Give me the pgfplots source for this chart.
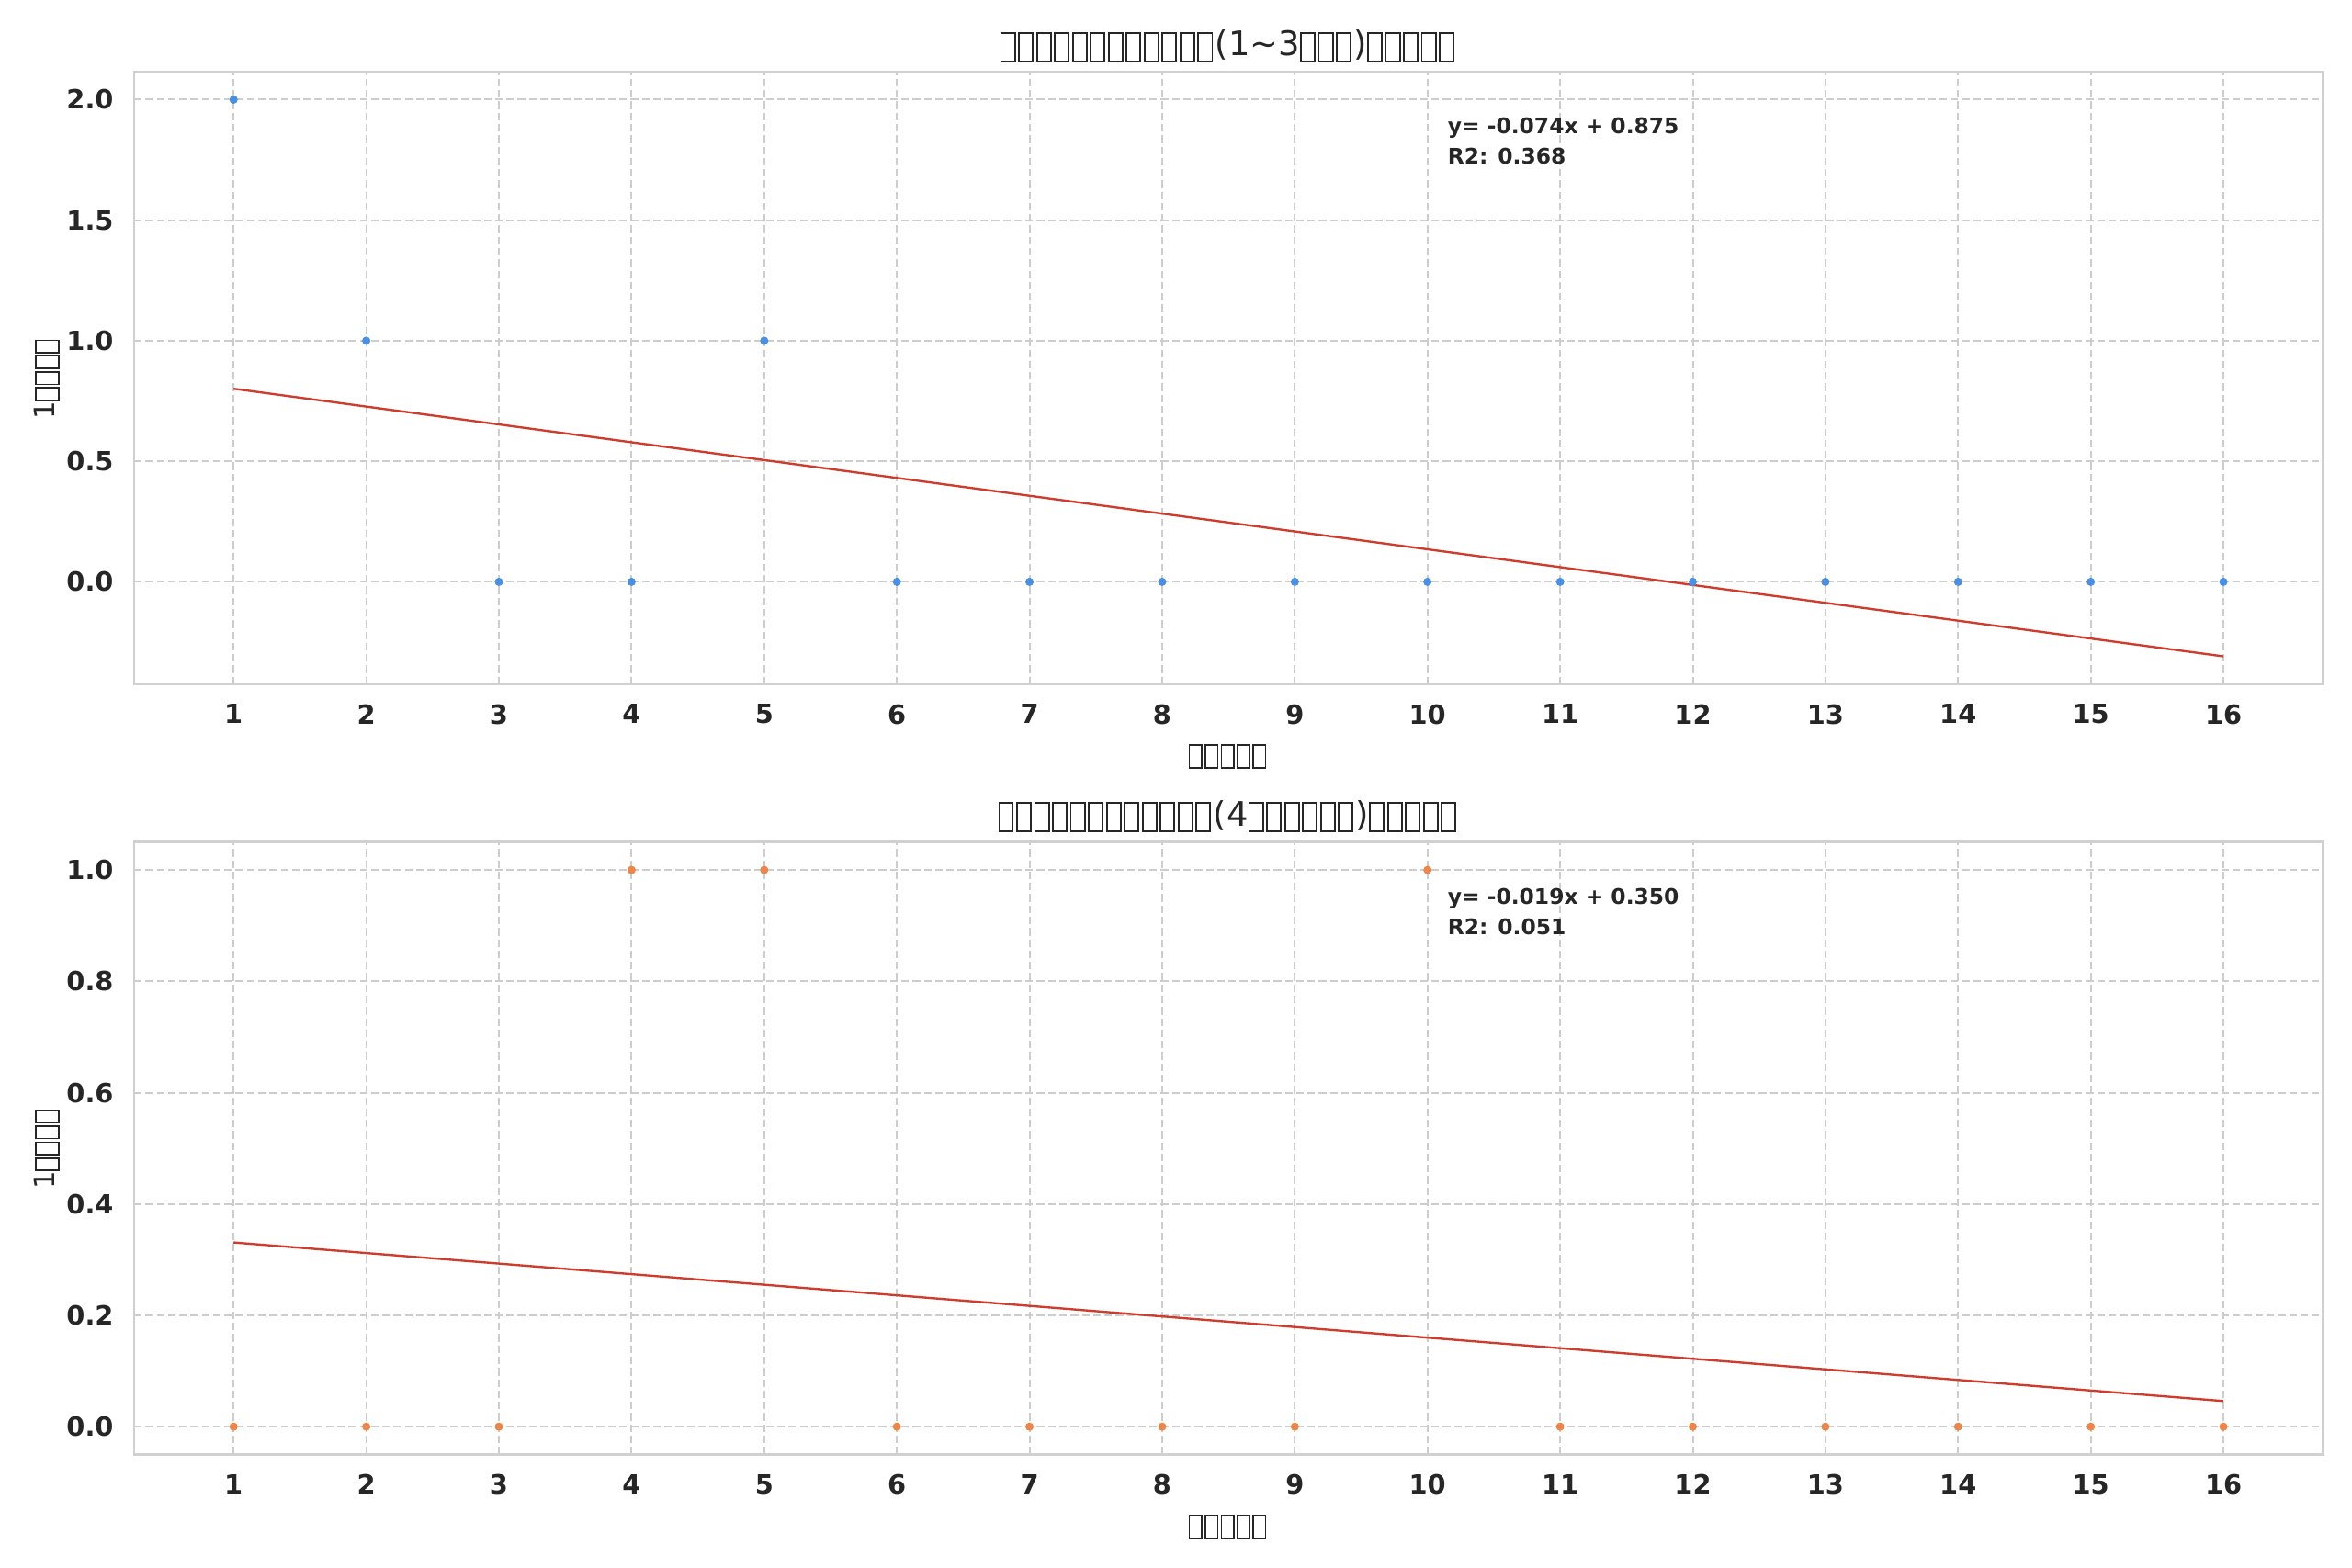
\documentclass[border=0pt]{standalone}
\usepackage{fontspec}
\setmainfont{DejaVu Sans}
\usepackage{pgfplots}
\pgfplotsset{compat=1.18}
\definecolor{txt}{RGB}{38,38,38}
\definecolor{framec}{RGB}{208,208,208}
\definecolor{gridc}{RGB}{205,205,205}
\definecolor{ptblue}{RGB}{74,144,226}
\definecolor{ptorange}{RGB}{237,134,72}
\definecolor{linered}{RGB}{205,60,45}
% missing-glyph boxes (tofu) as in the reference
\newcommand\mkbox[4]{\raisebox{-#4}{\fboxsep=0pt\fboxrule=0.05em\framebox[#1]{\rule{0pt}{\dimexpr#2-0.1em\relax}}}\kern#3}
\newcommand\ttofu{\mkbox{0.46em}{0.9em}{0.07em}{0.14em}}
\newcommand\ltofu{\mkbox{0.49em}{0.86em}{0.074em}{0.12em}}
\pgfplotstableread{
x y
1 2
2 1
3 0
4 0
5 1
6 0
7 0
8 0
9 0
10 0
11 0
12 0
13 0
14 0
15 0
16 0
}\topdata
\pgfplotstableread{
x y
1 0
2 0
3 0
4 1
5 1
6 0
7 0
8 0
9 0
10 1
11 0
12 0
13 0
14 0
15 0
16 0
}\botdata
\pgfplotsset{myax/.style={
  scale only axis, width=1008.8pt, height=282.3pt,
  xmin=0.25, xmax=16.75, xtick={1,...,16},
  axis line style={draw=framec, line width=1.1pt},
  grid=major,
  major grid style={draw=gridc, line width=0.85pt, dash pattern=on 3.5pt off 1.7pt},
  major tick length=0pt,
  tick style={draw=none},
  every axis title shift=0pt,
  /pgf/number format/assume math mode=true,
  ticklabel style={font=\fontsize{12.2}{14}\selectfont\bfseries, text=txt},
  xticklabel style={anchor=north, inner sep=0pt, yshift=-9pt},
  yticklabel style={anchor=east, inner sep=0pt, xshift=-9.3pt,
     /pgf/number format/.cd, fixed, fixed zerofill, precision=1},
  title style={at={(rel axis cs:0.5,1.0262)}, anchor=base, font=\fontsize{15.6}{18}\selectfont, text=txt, inner sep=0pt},
  xlabel style={at={(rel axis cs:0.5,-0.1297)}, anchor=base, font=\fontsize{13}{15}\selectfont, text=txt, inner sep=0pt},
  ylabel style={at={(rel axis cs:-0.03638,0.5)}, anchor=base, font=\fontsize{13}{15}\selectfont, text=txt, inner sep=0pt},
}}
\begin{document}
\begin{tikzpicture}
\useasboundingbox (0,0) rectangle (1084pt,-722.8pt);
\begin{axis}[myax, at={(61.8pt,-33.15pt)}, anchor=north west,
  ymin=-0.425, ymax=2.115, ytick={0,0.5,1,1.5,2},
  title={\ttofu\ttofu\ttofu\ttofu\ttofu\ttofu\ttofu\ttofu\ttofu\ttofu\ttofu\ttofu(1\textasciitilde 3\ttofu\ttofu\ttofu)\ttofu\ttofu\ttofu\ttofu\ttofu},
  xlabel={\ltofu\ltofu\ltofu\ltofu\ltofu},
  ylabel={1\ltofu\ltofu\ltofu\ltofu}]
\addplot[only marks, mark=*, mark size=1.7pt, color=ptblue] table[x=x,y=y]{\topdata};
\addplot[no marks, draw=linered, line width=1pt] coordinates {(1,0.801) (16,-0.309)};
\node[anchor=north west, inner sep=0pt, align=left, font=\fontsize{9.9}{14}\selectfont\bfseries, text=txt] at (rel axis cs:0.6,0.9254) {y= -0.074x + 0.875\\R2: 0.368};
\end{axis}
\begin{axis}[myax, at={(61.8pt,-388.2pt)}, anchor=north west,
  ymin=-0.05, ymax=1.05, ytick={0,0.2,0.4,0.6,0.8,1},
  title={\ttofu\ttofu\ttofu\ttofu\ttofu\ttofu\ttofu\ttofu\ttofu\ttofu\ttofu\ttofu(4\ttofu\ttofu\ttofu\ttofu\ttofu\ttofu)\ttofu\ttofu\ttofu\ttofu\ttofu},
  xlabel={\ltofu\ltofu\ltofu\ltofu\ltofu},
  ylabel={1\ltofu\ltofu\ltofu\ltofu}]
\addplot[only marks, mark=*, mark size=1.7pt, color=ptorange] table[x=x,y=y]{\botdata};
\addplot[no marks, draw=linered, line width=1pt] coordinates {(1,0.331) (16,0.046)};
\node[anchor=north west, inner sep=0pt, align=left, font=\fontsize{9.9}{14}\selectfont\bfseries, text=txt] at (rel axis cs:0.6,0.9254) {y= -0.019x + 0.350\\R2: 0.051};
\end{axis}
\end{tikzpicture}
\end{document}
